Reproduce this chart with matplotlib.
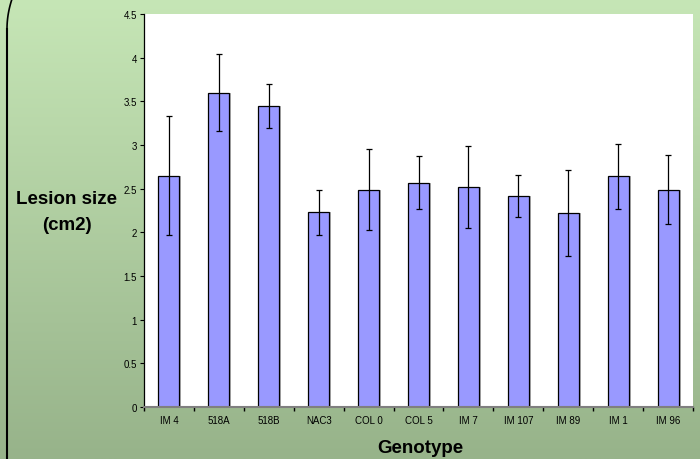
import numpy as np
import matplotlib
matplotlib.use("Agg")
import matplotlib.pyplot as plt
from matplotlib.colors import LinearSegmentedColormap

categories = ["IM 4", "518A", "518B", "NAC3", "COL 0", "COL 5", "IM 7", "IM 107", "IM 89", "IM 1", "IM 96"]
means = [2.65, 3.60, 3.45, 2.23, 2.49, 2.57, 2.52, 2.42, 2.22, 2.64, 2.49]
errors = [0.68, 0.44, 0.25, 0.26, 0.46, 0.30, 0.47, 0.24, 0.49, 0.37, 0.40]
yticks = [0, 0.5, 1, 1.5, 2, 2.5, 3, 3.5, 4, 4.5]
ytick_labels = ["0", "0.5", "1", "1.5", "2", "2.5", "3", "3.5", "4", "4.5"]

W, H = 700, 460
fig = plt.figure(figsize=(7, 4.6), dpi=100)

# background gradient
bg = fig.add_axes([0, 0, 1, 1])
cmap = LinearSegmentedColormap.from_list("g", ["#c6e6b6", "#97b38a"])
grad = np.linspace(0, 1, 256).reshape(-1, 1)
bg.imshow(grad, aspect="auto", cmap=cmap, extent=[0, W, H, 0])
bg.set_xlim(0, W)
bg.set_ylim(H, 0)
bg.axis("off")
# left border with rounded top
curve_y = np.linspace(0, 30, 50)
curve_x = 7 + 5 * (1 - curve_y / 30) ** 2
bg.plot(curve_x, curve_y, color="black", lw=1.2)
bg.plot([7, 7], [30, H], color="black", lw=1.5)

# main plot
L, R, T, B = 144, 693, 15, 408
ax = fig.add_axes([L / W, (H - B) / H, (R - L) / W, (B - T) / H])
ax.set_facecolor("white")
x = np.arange(len(categories))
ax.bar(x + 0.04, means, width=0.42, color="#808080", alpha=0.6, zorder=1)
ax.bar(x, means, width=0.42, color="#9999ff", edgecolor="black", linewidth=0.9, zorder=2)
ax.errorbar(x, means, yerr=errors, fmt="none", ecolor="black", elinewidth=0.9,
            capsize=2.5, capthick=0.9, zorder=3)

ax.set_xlim(-0.5, len(categories) - 0.5)
ax.set_ylim(0, 4.5)
ax.set_yticks(yticks)
ax.set_yticklabels(ytick_labels, fontsize=7, family="Liberation Sans")
ax.set_xticks(x)
ax.set_xticklabels(categories, fontsize=7, family="Liberation Sans")
ax.tick_params(axis="x", length=0, pad=6)
ax.set_xticks(np.arange(-0.5, len(categories) + 0.5, 1), minor=True)
ax.tick_params(axis="x", which="minor", length=3, direction="out", width=1)
ax.tick_params(axis="y", length=3, direction="out", width=0.8, pad=2)
for s in ["top", "right"]:
    ax.spines[s].set_visible(False)
ax.spines["left"].set_color("black")
ax.spines["left"].set_linewidth(0.9)
ax.spines["bottom"].set_color("#7f7f7f")
ax.spines["bottom"].set_linewidth(1.5)

fig.text(67 / W, 1 - 200 / H, "Lesion size", ha="center", va="center",
         fontsize=13.5, fontweight="bold", family="Liberation Sans")
fig.text(67 / W, 1 - 226 / H, "(cm2)", ha="center", va="center",
         fontsize=13.5, fontweight="bold", family="Liberation Sans")
fig.text(420 / W, 1 - 449 / H, "Genotype", ha="center", va="center",
         fontsize=13.5, fontweight="bold", family="Liberation Sans")

fig.savefig("out.png", dpi=100)
